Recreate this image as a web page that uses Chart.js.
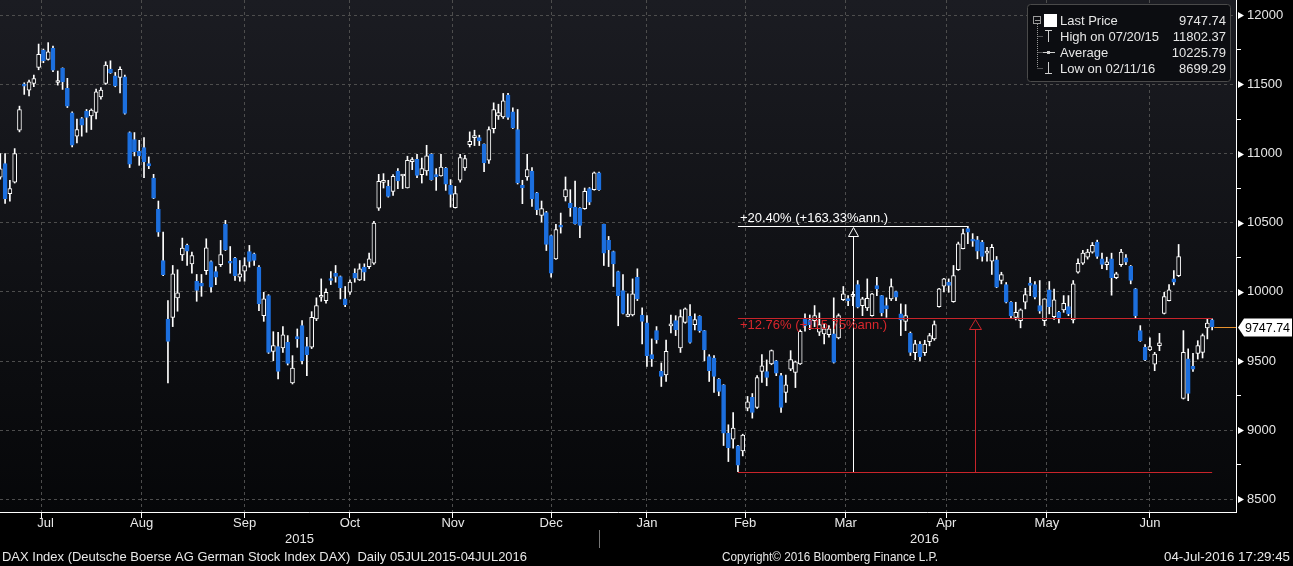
<!DOCTYPE html>
<html>
<head>
<meta charset="utf-8">
<script src="https://cdn.jsdelivr.net/npm/chart.js@4.4.1/dist/chart.umd.min.js"></script>
<style>
  html, body { margin: 0; padding: 0; background: #000; }
  canvas { display: block; }
</style>
</head>
<body>
<canvas id="dax" width="1293" height="566"></canvas>
<script>
// DAX daily candles, 06 Jul 2015 - 04 Jul 2016 (one entry per trading day)
const opens = [
  10830,10928,10710,10794,11169,11500,11459,11507,11623,11749,
  11681,11761,11514,11616,11471,11294,11126,11254,11307,11273,
  11297,11410,11507,11611,11562,11551,11555,11152,11102,11017,
  11044,10928,10823,10597,10227,9804,9816,9957,10268,10336,
  10203,10077,10062,10154,10220,10147,10196,10488,10220,10244,
  10106,10150,10292,10275,10179,9828,9973,9570,9604,9594,
  9635,9341,9676,9756,9604,9600,9805,9961,9937,10092,
  10135,10111,9949,9997,10135,10087,10179,10183,10207,10606,
  10792,10763,10727,10874,10838,10751,10942,10959,10848,10874,
  10995,10848,10838,10896,10770,10609,10807,10896,11065,11116,
  11116,11068,10952,11181,11273,11265,11423,11302,11174,10770,
  10831,10874,10717,10553,10573,10408,10239,10481,10686,10642,
  10613,10606,10602,10747,10739,10860,10488,10372,10292,10147,
  10010,9823,9833,10106,9833,9776,9546,9720,9425,9399,
  9754,9792,9594,9780,9823,9763,9823,9720,9533,9522,
  9370,9328,8979,8935,8886,8850,9160,9237,9164,9425,
  9423,9479,9502,9394,9273,9442,9418,9479,9804,9797,
  9792,9708,9696,9691,9696,9667,9944,9947,9968,10053,
  9901,9884,9828,10046,9973,9901,9949,10003,9841,9787,
  9700,9560,9620,9560,9640,9660,9893,10041,10070,9930,
  10160,10312,10457,10377,10377,10360,10280,10222,10232,10082,
  10053,9925,9816,9792,9925,10063,10053,9901,9792,10015,
  9821,9852,9870,9894,9797,10142,10207,10251,10287,10360,
  10239,10196,10239,10102,10196,10247,10184,10022,9720,9599,
  9580,9478,9611,9845,9937,10094,10118,9229,9515,9461,
  9555,9563,9740,9797
];
const highs = [
  11000,11000,10807,11036,11343,11512,11531,11567,11792,11756,
  11802.37,11778,11597,11620,11544,11302,11249,11261,11319,11323,
  11466,11478,11664,11671,11587,11627,11567,11157,11152,11096,
  11116,10976,10850,10657,10432,9937,10191,10160,10389,10345,
  10287,10126,10126,10384,10225,10183,10372,10517,10328,10250,
  10227,10247,10336,10280,10191,9997,9980,9712,9707,9749,
  9684,9539,9732,9792,9671,9857,9957,10094,10022,10147,
  10191,10115,10039,10087,10167,10203,10203,10280,10510,10850,
  10855,10807,10848,10891,10850,10981,10971,10995,10968,11060,
  11000,10891,10995,10900,10812,10763,10995,10988,11157,11169,
  11133,11070,11193,11367,11357,11435,11435,11331,11319,10807,
  10995,10899,10720,10657,10582,10410,10488,10570,10831,10739,
  10802,10610,10751,10754,10867,10867,10490,10401,10295,10150,
  10126,9986,10094,10167,9884,9828,9660,9749,9486,9652,
  9833,9828,9870,9884,9908,9841,9828,9722,9546,9539,
  9374,9330,9039,9128,8890,8971,9244,9265,9394,9546,
  9508,9580,9505,9411,9399,9575,9500,9725,9841,9833,
  9901,9848,9768,9756,9957,9841,10039,9973,10000,10082,
  9961,10094,9990,10106,9975,9957,10094,10005,9913,9908,
  9710,9650,9640,9650,9700,9790,10025,10098,10094,10191,
  10360,10454,10474,10421,10401,10372,10323,10343,10256,10142,
  10068,9930,9925,9877,10026,10106,10075,10082,9950,10075,
  10020,9860,9973,9973,10082,10239,10300,10308,10357,10374,
  10280,10251,10280,10142,10308,10270,10191,10025,9756,9619,
  9667,9563,9700,9997,10053,10154,10343,9720,9588,9555,
  9647,9696,9805,9805
];
const lows = [
  10815,10640,10656,10787,11157,11428,11417,11483,11606,11657,
  11676,11592,11495,11464,11333,11048,11077,11126,11154,11174,
  11251,11394,11500,11580,11483,11439,11285,10899,10983,10915,
  10826,10891,10674,10401,10118,9341,9749,9860,10227,10191,
  10135,9932,9968,10126,9997,10053,10183,10299,10135,10082,
  10077,10077,10179,10192,9865,9787,9555,9502,9370,9562,
  9471,9334,9599,9479,9394,9590,9792,9932,9918,10053,
  10070,9949,9893,9981,10070,10082,10082,10167,10198,10589,
  10751,10685,10698,10747,10747,10751,10884,10826,10787,10843,
  10807,10734,10836,10734,10613,10606,10794,10879,11048,11058,
  11058,10869,10928,11149,11247,11254,11247,11181,10780,10638,
  10807,10618,10558,10505,10299,10106,10235,10425,10657,10546,
  10490,10392,10597,10630,10735,10734,10191,10183,10039,9755,
  9840,9820,9826,9937,9624,9461,9461,9628,9316,9352,
  9703,9684,9562,9773,9630,9725,9708,9502,9352,9273,
  9249,8889,8773,8870,8699.29,8814,9140,9087,9157,9345,
  9321,9473,9394,9128,9200,9430,9308,9475,9715,9727,
  9749,9684,9624,9672,9485,9660,9937,9901,9900,9884,
  9828,9865,9825,9973,9826,9816,9937,9937,9684,9720,
  9540,9510,9500,9540,9610,9650,9890,10000,9997,9925,
  10155,10310,10348,10329,10239,10222,10222,10126,10030,10058,
  9920,9810,9797,9740,9877,9973,9949,9845,9756,9841,
  9800,9775,9852,9828,9775,10135,10198,10237,10280,10242,
  10167,10160,9976,10095,10184,10196,10058,9807,9642,9502,
  9575,9430,9575,9840,9935,10051,10110,9225,9213,9425,
  9514,9522,9660,9725
];
const closes = [
  10890,10674,10747,11000,11319,11488,11519,11543,11717,11671,
  11736,11604,11524,11519,11343,11060,11174,11205,11261,11314,
  11446,11459,11640,11584,11490,11609,11290,10923,11012,10983,
  10939,10910,10678,10432,10124,9642,10130,9993,10316,10294,
  10263,10010,10041,10319,10034,10106,10270,10303,10207,10118,
  10130,10191,10220,10227,9913,9949,9562,9611,9425,9689,
  9483,9449,9660,9502,9546,9816,9901,9973,9997,10082,
  10111,10029,9908,10070,10099,10167,10142,10239,10497,10799,
  10807,10691,10836,10802,10848,10952,10952,10843,10891,10983,
  10812,10831,10903,10778,10705,10710,10971,10964,11089,11125,
  11092,10932,11174,11319,11297,11381,11261,11186,10787,10751,
  10884,10674,10594,10602,10343,10135,10450,10468,10739,10609,
  10493,10481,10727,10649,10860,10739,10280,10305,10203,9973,
  9845,9839,9986,9949,9787,9539,9515,9652,9389,9570,
  9763,9727,9821,9877,9635,9799,9720,9580,9430,9389,
  9280,8979,8874,9015,8747,8964,9205,9128,9381,9466,
  9381,9575,9413,9164,9328,9510,9495,9715,9756,9763,
  9828,9763,9732,9732,9490,9828,9986,9937,9980,9889,
  9949,9954,9986,10022,9848,9877,10039,9961,9797,9828,
  9563,9624,9530,9622,9684,9763,10022,10094,10046,10118,
  10348,10421,10432,10367,10294,10256,10294,10323,10034,10126,
  9925,9827,9852,9870,9980,10046,9961,9860,9949,9893,
  9942,9804,9918,9841,10058,10207,10280,10287,10336,10256,
  10198,10217,10102,10130,10287,10215,10082,9828,9647,9508,
  9604,9551,9631,9966,10015,10070,10256,9563,9265,9442,
  9611,9684,9774,9747.74
];

// month names and trading days per month (Jul 2015 ... Jul 2016)
const monthNames = ['Jul', 'Aug', 'Sep', 'Oct', 'Nov', 'Dec', 'Jan', 'Feb', 'Mar', 'Apr', 'May', 'Jun'];
const monthDays = [20, 21, 22, 22, 21, 20, 20, 21, 21, 21, 21, 22, 2];
const yearLabels = ['2015', '2016'];
const priceTicks = [8500, 9000, 9500, 10000, 10500, 11000, 11500, 12000];

// legend values
const lastPrice = 9747.74;
const highPrice = 11802.37;
const avgPrice = 10225.79;
const lowPrice = 8699.29;

// measured moves (start index, end index, percent)
const moveUp = { from: 154, to: 202, pct: 20.40, ann: '+163.33%ann.' };
const moveLast = { from: 154, to: 253, pct: 12.76, ann: '+115.75%ann.' };

const FONT = '"Liberation Sans", Arial, sans-serif';
const BLUE = '#1c6fde';
const HOLLOW = '#0e0f13';

// month boundary (last trading day of each month)
const monthEnds = [];
let acc = 0;
monthDays.forEach(function (d) { acc += d; monthEnds.push(acc - 1); });
const gridMonthEnds = monthEnds.slice(0, 12);

const minorTicks = [];
for (let v = priceTicks[0]; v <= priceTicks[priceTicks.length - 1]; v += 250) minorTicks.push(v);
const isMajor = function (v) { return priceTicks.indexOf(v) >= 0; };

const idx = closes.map(function (c, i) { return i; });
const isUp = idx.map(function (i) { return closes[i] >= opens[i]; });

function line(ctx, x1, y1, x2, y2, color, w) {
  ctx.beginPath();
  ctx.strokeStyle = color;
  ctx.lineWidth = w || 1;
  ctx.moveTo(x1, y1);
  ctx.lineTo(x2, y2);
  ctx.stroke();
}

// stretch a string to a measured width
function fitText(ctx, text, x, y, width) {
  const w = ctx.measureText(text).width;
  ctx.save();
  ctx.translate(x, y);
  ctx.scale(width / w, 1);
  ctx.textAlign = 'left';
  ctx.fillText(text, 0, 0);
  ctx.restore();
}

const background = {
  id: 'background',
  beforeDraw(chart) {
    const { ctx, chartArea: a } = chart;
    ctx.save();
    ctx.fillStyle = '#000';
    ctx.fillRect(0, 0, chart.width, chart.height);
    const g = ctx.createLinearGradient(0, a.top, 0, a.bottom);
    g.addColorStop(0, '#1b1c22');
    g.addColorStop(1, '#060709');
    ctx.fillStyle = g;
    ctx.fillRect(a.left, a.top, a.right - a.left, a.bottom - a.top);
    ctx.restore();
  }
};

const annotations = {
  id: 'annotations',
  afterDatasetsDraw(chart) {
    const { ctx, chartArea: a } = chart;
    const x = chart.scales.x, y = chart.scales.y;
    ctx.save();

    // +20.40% move
    const upVal = lowPrice * (1 + moveUp.pct / 100);
    const yUp = Math.round(y.getPixelForValue(upVal)) + 0.5;
    const yLow = Math.round(y.getPixelForValue(lowPrice)) + 0.5;
    const xs = x.getPixelForValue(moveUp.from);
    const xe = x.getPixelForValue(moveUp.to);
    line(ctx, xs, yUp, xe, yUp, '#ffffff');
    const xm = Math.round(x.getPixelForValue((moveUp.from + moveUp.to) / 2)) + 0.5;
    line(ctx, xm, yUp + 10, xm, yLow, '#ffffff');
    ctx.beginPath();
    ctx.moveTo(xm, yUp + 1);
    ctx.lineTo(xm - 5, yUp + 10);
    ctx.lineTo(xm + 5, yUp + 10);
    ctx.closePath();
    ctx.strokeStyle = '#ffffff';
    ctx.lineWidth = 1;
    ctx.stroke();
    ctx.font = '13px ' + FONT;
    ctx.fillStyle = '#ffffff';
    ctx.textBaseline = 'middle';
    ctx.textAlign = 'left';
    ctx.fillText('+' + moveUp.pct.toFixed(2) + '% (' + moveUp.ann + ')', xs + 2, yUp - 8);

    // +12.76% move
    const lastVal = lowPrice * (1 + moveLast.pct / 100);
    const yLast = Math.round(y.getPixelForValue(lastVal)) + 0.5;
    const xs2 = x.getPixelForValue(moveLast.from);
    const xe2 = x.getPixelForValue(moveLast.to);
    line(ctx, xs2, yLow, xe2, yLow, '#c8242a');
    line(ctx, xs2, yLast, xe2, yLast, '#c8242a');
    const xm2 = Math.round(x.getPixelForValue((moveLast.from + moveLast.to) / 2)) + 0.5;
    line(ctx, xm2, yLast + 11, xm2, yLow, '#c8242a');
    ctx.beginPath();
    ctx.moveTo(xm2, yLast + 1);
    ctx.lineTo(xm2 - 6, yLast + 11);
    ctx.lineTo(xm2 + 6, yLast + 11);
    ctx.closePath();
    ctx.strokeStyle = '#c8242a';
    ctx.stroke();
    ctx.fillStyle = '#d8262c';
    ctx.fillText('+' + moveLast.pct.toFixed(2) + '% (' + moveLast.ann + ')', xs2 + 2, yLast + 7);

    // last price line
    const yl = Math.round(y.getPixelForValue(lastPrice)) + 0.5;
    line(ctx, x.getPixelForValue(closes.length - 1) + 2, yl, a.right, yl, '#e8922e');
    ctx.restore();
  }
};

const frame = {
  id: 'frame',
  afterDraw(chart) {
    const { ctx, chartArea: a } = chart;
    const x = chart.scales.x, y = chart.scales.y;
    ctx.save();
    ctx.textBaseline = 'middle';

    // axis triangles
    ctx.fillStyle = '#ffffff';
    priceTicks.forEach(function (v) {
      const py = Math.round(y.getPixelForValue(v)) + 0.5;
      ctx.beginPath();
      ctx.moveTo(a.right + 2, py - 3.5);
      ctx.lineTo(a.right + 8, py);
      ctx.lineTo(a.right + 2, py + 3.5);
      ctx.closePath();
      ctx.fill();
    });

    // last price tag
    const yl = Math.round(y.getPixelForValue(lastPrice)) + 0.5;
    ctx.beginPath();
    ctx.moveTo(a.right + 2, yl);
    ctx.lineTo(a.right + 8, yl - 9);
    ctx.lineTo(1292, yl - 9);
    ctx.lineTo(1292, yl + 9);
    ctx.lineTo(a.right + 8, yl + 9);
    ctx.closePath();
    ctx.fillStyle = '#ffffff';
    ctx.fill();
    ctx.fillStyle = '#000000';
    ctx.font = '13px ' + FONT;
    fitText(ctx, lastPrice.toFixed(2), a.right + 9, yl + 1, 45);

    // month labels
    ctx.fillStyle = '#e8e8e8';
    ctx.font = '13px ' + FONT;
    ctx.textAlign = 'center';
    monthNames.forEach(function (m, k) {
      const left = k === 0 ? x.min : gridMonthEnds[k - 1];
      const cx = (x.getPixelForValue(left) + x.getPixelForValue(gridMonthEnds[k])) / 2;
      ctx.fillText(m, cx, a.bottom + 11);
    });

    // years
    const yearSplit = x.getPixelForValue(gridMonthEnds[5]);
    ctx.fillText(yearLabels[0], (a.left + yearSplit) / 2, a.bottom + 27);
    ctx.fillText(yearLabels[1], (yearSplit + a.right) / 2 + 7, a.bottom + 27);
    line(ctx, Math.round(yearSplit) + 0.5, a.bottom + 18, Math.round(yearSplit) + 0.5, a.bottom + 36, '#777777');

    // footer
    ctx.fillStyle = '#e8e8e8';
    ctx.font = '13px ' + FONT;
    fitText(ctx, 'DAX Index (Deutsche Boerse AG German Stock Index DAX)  Daily 05JUL2015-04JUL2016', 2, 557, 525);
    fitText(ctx, 'Copyright\u00A9 2016 Bloomberg Finance L.P.', 722, 557, 216);
    fitText(ctx, '04-Jul-2016 17:29:45', 1164, 557, 126);

    // legend box
    const bx = 1027.5, by = 4.5, bw = 203, bh = 77;
    ctx.beginPath();
    ctx.roundRect(bx, by, bw, bh, 3);
    ctx.fillStyle = '#0c0d11';
    ctx.fill();
    ctx.strokeStyle = '#4a4a4a';
    ctx.lineWidth = 1;
    ctx.stroke();

    const rows = [
      ['Last Price', lastPrice.toFixed(2)],
      ['High on 07/20/15', highPrice.toFixed(2)],
      ['Average', avgPrice.toFixed(2)],
      ['Low on 02/11/16', lowPrice.toFixed(2)]
    ];
    const rowY = [20, 36, 52, 68];
    ctx.font = '13px ' + FONT;
    rows.forEach(function (r, k) {
      ctx.fillStyle = '#e6e6e6';
      ctx.textAlign = 'left';
      ctx.fillText(r[0], 1060, rowY[k] + 1);
      ctx.textAlign = 'right';
      ctx.fillText(r[1], 1226, rowY[k] + 1);
    });

    // legend tree and icons
    ctx.strokeStyle = '#9a9a9a';
    ctx.strokeRect(1033.5, 16.5, 7, 7);
    line(ctx, 1035, 20.5, 1040, 20.5, '#9a9a9a');
    ctx.setLineDash([1, 1]);
    line(ctx, 1037.5, 24, 1037.5, 68, '#9a9a9a');
    [36, 52, 68].forEach(function (ry) { line(ctx, 1037.5, ry + 0.5, 1043, ry + 0.5, '#9a9a9a'); });
    ctx.setLineDash([]);
    ctx.fillStyle = '#ffffff';
    ctx.fillRect(1044, 14, 13, 13);
    line(ctx, 1048.5, 30, 1048.5, 42, '#cfcfcf');
    line(ctx, 1045, 30.5, 1052, 30.5, '#cfcfcf');
    line(ctx, 1043, 52.5, 1055, 52.5, '#cfcfcf');
    ctx.fillStyle = '#cfcfcf';
    ctx.fillRect(1047, 51, 3, 3);
    line(ctx, 1048.5, 62, 1048.5, 74, '#cfcfcf');
    line(ctx, 1045, 73.5, 1052, 73.5, '#cfcfcf');

    ctx.restore();
  }
};

new Chart(document.getElementById('dax'), {
  type: 'bar',
  data: {
    datasets: [
      {
        label: 'range',
        data: idx.map(function (i) { return { x: i, y: [lows[i], highs[i]] }; }),
        backgroundColor: '#ffffff',
        barThickness: 1,
        grouped: false,
        order: 2
      },
      {
        label: 'body',
        data: idx.map(function (i) { return { x: i, y: [opens[i], closes[i]] }; }),
        backgroundColor: idx.map(function (i) { return isUp[i] ? HOLLOW : BLUE; }),
        borderColor: idx.map(function (i) { return isUp[i] ? '#ffffff' : BLUE; }),
        borderWidth: 1,
        borderSkipped: false,
        barThickness: 4,
        minBarLength: 2,
        grouped: false,
        order: 1
      }
    ]
  },
  options: {
    responsive: false,
    animation: false,
    devicePixelRatio: 1,
    events: [],
    layout: { padding: 0 },
    plugins: {
      legend: { display: false },
      tooltip: { enabled: false }
    },
    scales: {
      x: {
        type: 'linear',
        min: -0.063,
        max: 257.98,
        offset: false,
        afterBuildTicks: function (ax) { ax.ticks = gridMonthEnds.map(function (v) { return { value: v }; }); },
        afterFit: function (ax) { ax.height = 54; ax.paddingLeft = 0; ax.paddingRight = 0; },
        grid: { color: '#4d4d4d', drawTicks: true, tickLength: 6, tickColor: '#ffffff' },
        border: { display: true, color: '#ffffff', width: 1, dash: [3, 3] },
        ticks: { display: false }
      },
      y: {
        type: 'linear',
        position: 'right',
        min: 8408.3,
        max: 12110.6,
        afterBuildTicks: function (ax) { ax.ticks = minorTicks.map(function (v) { return { value: v }; }); },
        afterFit: function (ax) { ax.width = 57; ax.paddingTop = 0; ax.paddingBottom = 0; },
        grid: {
          color: function (c) { return c.tick && isMajor(c.tick.value) ? '#4d4d4d' : 'rgba(0,0,0,0)'; },
          tickLength: 5,
          tickColor: function (c) {
            if (!c.tick || isMajor(c.tick.value)) return 'rgba(0,0,0,0)';
            return Math.abs(c.tick.value - lastPrice) < 60 ? 'rgba(0,0,0,0)' : '#ffffff';
          }
        },
        border: { display: true, color: '#ffffff', width: 1, dash: [3, 3] },
        ticks: {
          autoSkip: false,
          color: '#e6e6e6',
          font: { family: FONT, size: 13 },
          padding: 6,
          callback: function (v) { return isMajor(v) ? String(v) : ''; }
        }
      }
    }
  },
  plugins: [background, annotations, frame]
});
</script>
</body>
</html>
